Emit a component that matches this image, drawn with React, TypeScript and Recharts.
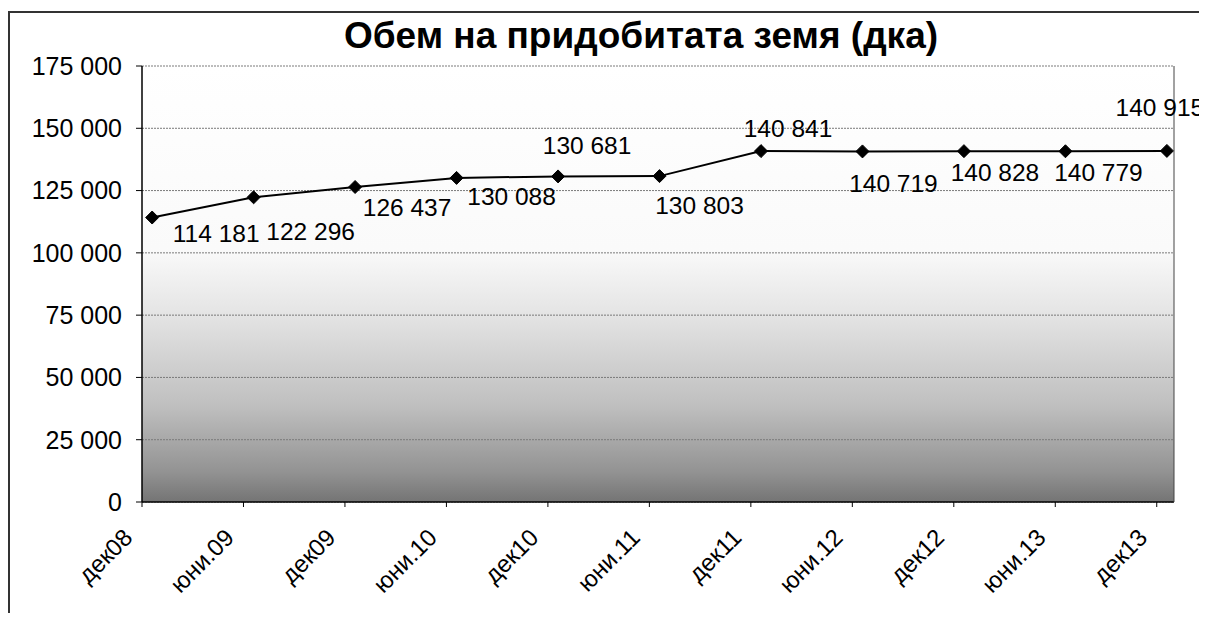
import React from 'react';
import {
  LineChart,
  Line,
  XAxis,
  YAxis,
  CartesianGrid,
  LabelList,
} from 'recharts';

const periods = ['дек08', 'юни.09', 'дек09', 'юни.10', 'дек10', 'юни.11', 'дек11', 'юни.12', 'дек12', 'юни.13', 'дек13'];
const landVolume = [114181, 122296, 126437, 130088, 130681, 130803, 140841, 140719, 140828, 140779, 140915];
const yTicks = [0, 25000, 50000, 75000, 100000, 125000, 150000, 175000];

// label placement relative to each marker, as moved by hand in the original
const labelShift: [number, number][] = [
  [64, 16], [57, 34], [52, 21], [55, 19], [29, -31], [40, 29],
  [27, -23], [31, 32], [31, 21], [33, 21], [-7, -43],
];

const FONT = '"Liberation Sans", Arial, sans-serif';
// ticks sit a little to the left of each point (date axis in the original)
const TICK_SHIFT = 0.1;

const data = periods.map((p, i) => ({ idx: i, period: p, value: landVolume[i] }));

const fmt = (v: number) => String(v).replace(/\B(?=(\d{3})+(?!\d))/g, ' ');

function Diamond(props: any) {
  const { cx, cy } = props;
  if (cx == null || cy == null) return null;
  const r = 6.5;
  return (
    <path
      d={`M${cx},${cy - r} L${cx + r},${cy} L${cx},${cy + r} L${cx - r},${cy} Z`}
      fill="#000"
      stroke="#000"
    />
  );
}

function XTick(props: any) {
  const { x, y, payload } = props;
  const label = periods[Math.round(payload.value + TICK_SHIFT)];
  const tx = x - 8;
  const ty = y + 30;
  return (
    <text
      x={tx}
      y={ty}
      textAnchor="end"
      fontSize={24}
      fontFamily={FONT}
      fill="#000"
      transform={`rotate(-45 ${tx} ${ty})`}
    >
      {label}
    </text>
  );
}

function PointLabel(props: any) {
  const { x, y, index, value } = props;
  const [dx, dy] = labelShift[index] || [0, -20];
  return (
    <text
      x={x + dx}
      y={y + dy}
      textAnchor="middle"
      dominantBaseline="central"
      fontSize={24.5}
      fontFamily={FONT}
      fill="#000"
    >
      {fmt(value)}
    </text>
  );
}

export default function App() {
  return (
    <div style={{ position: 'relative', width: 1199, height: 605, overflow: 'hidden', background: '#fff' }}>
      <div
        style={{
          position: 'absolute',
          left: 0,
          top: 3,
          width: 1197,
          height: 700,
          border: '2px solid #333',
          boxSizing: 'border-box',
        }}
      />
      <div
        style={{
          position: 'absolute',
          left: 0,
          width: 1266,
          top: 9,
          textAlign: 'center',
          fontFamily: FONT,
          fontWeight: 'bold',
          fontSize: 37,
          lineHeight: '37px',
          color: '#000',
          zIndex: 2,
        }}
      >
        Обем на придобитата земя (дка)
      </div>
      <LineChart
        width={1199}
        height={605}
        data={data}
        margin={{ top: 58, right: 0, bottom: 0, left: 0 }}
        style={{ position: 'relative', zIndex: 1 }}
      >
        <defs>
          <linearGradient id="plotBg" x1="0" y1="0" x2="0" y2="1">
            <stop offset="0%" stopColor="#ffffff" />
            <stop offset="42%" stopColor="#fafafa" />
            <stop offset="57%" stopColor="#e4e4e4" />
            <stop offset="78%" stopColor="#bfbfbf" />
            <stop offset="93%" stopColor="#939393" />
            <stop offset="100%" stopColor="#747474" />
          </linearGradient>
        </defs>
        <CartesianGrid
          vertical={false}
          stroke="#7a7a7a"
          strokeDasharray="2 1"
          fill="url(#plotBg)"
          fillOpacity={1}
        />
        <XAxis
          type="number"
          dataKey="idx"
          domain={[-0.1, 10.07]}
          ticks={periods.map((_, i) => i - TICK_SHIFT)}
          tick={<XTick />}
          tickSize={5}
          height={111}
          interval={0}
          axisLine={{ stroke: '#000', strokeWidth: 1.5 }}
          tickLine={{ stroke: '#000' }}
        />
        <YAxis
          domain={[0, 175000]}
          ticks={yTicks}
          tickFormatter={fmt}
          width={134}
          tickSize={6}
          tickMargin={14}
          interval={0}
          tick={{ fontSize: 25, fontFamily: FONT, fill: '#000' }}
          axisLine={{ stroke: '#000', strokeWidth: 1.5 }}
          tickLine={{ stroke: '#000' }}
        />
        <YAxis
          yAxisId="frame"
          orientation="right"
          width={33}
          tick={false}
          tickLine={false}
          axisLine={{ stroke: '#444' }}
        />
        <Line
          type="linear"
          dataKey="value"
          stroke="#000"
          strokeWidth={2}
          dot={<Diamond />}
          activeDot={false}
          isAnimationActive={false}
        >
          <LabelList dataKey="value" content={<PointLabel />} />
        </Line>
      </LineChart>
    </div>
  );
}
